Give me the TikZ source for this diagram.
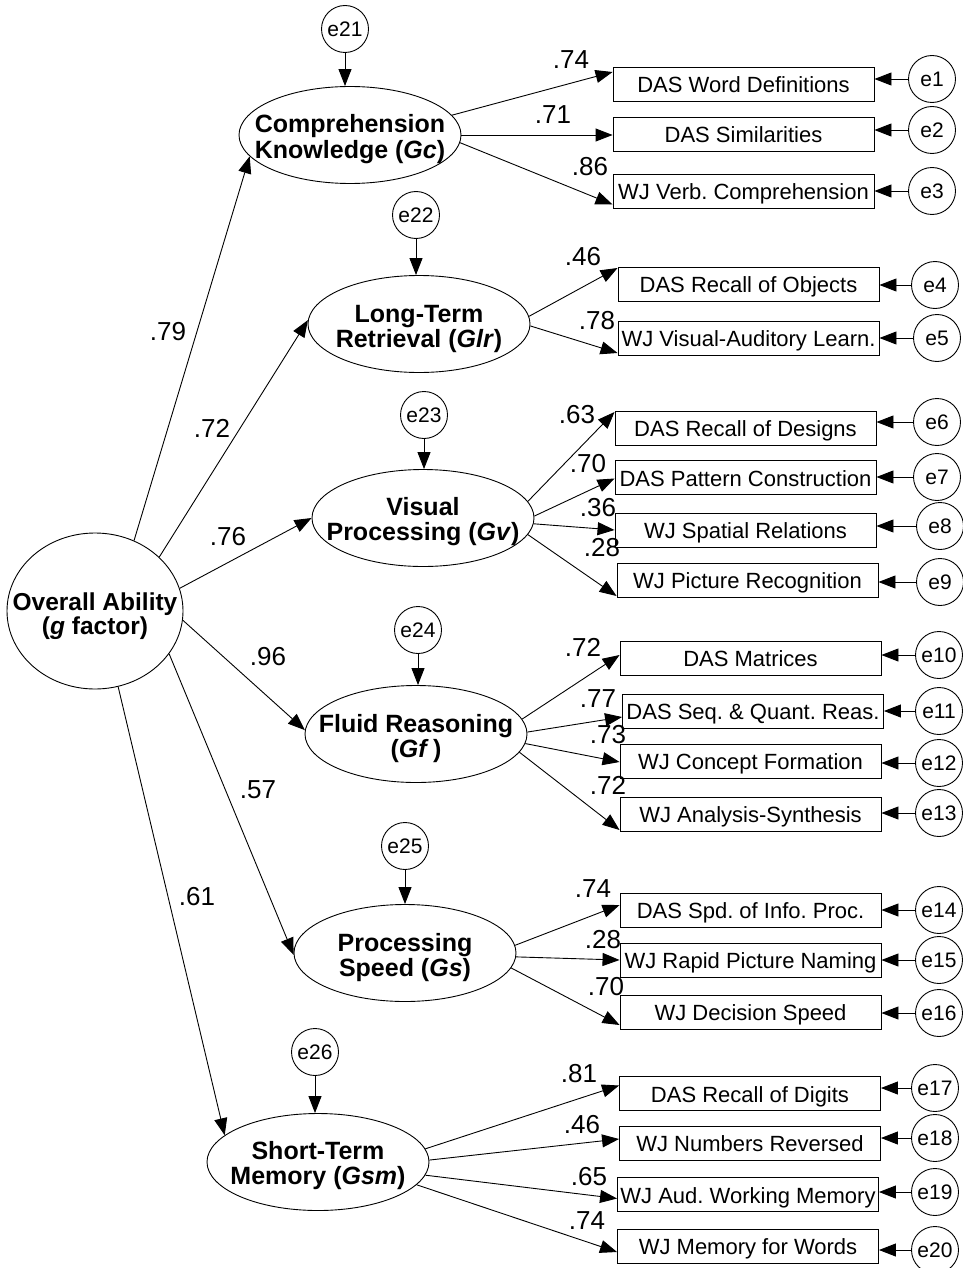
\documentclass[tikz,border=0pt]{standalone}
\usepackage{fontspec}
\setmainfont{Liberation Sans}
\usetikzlibrary{shapes.geometric,arrows.meta}
\frenchspacing
\newcommand{\zw}[2][2pt]{\raisebox{#1}[0pt][0pt]{\makebox[0pt][c]{\begin{tabular}[t]{@{}c@{}}#2\end{tabular}}}}
\begin{document}
\begin{tikzpicture}[x=1pt,y=-1pt,line width=0.9pt,
 arr/.style={-{Triangle[length=17pt,width=13pt]}},
 lat/.style={draw,ellipse,minimum width=222pt,minimum height=97pt,inner sep=0pt,font=\fontsize{25}{25}\selectfont\bfseries},
 obs/.style={draw,rectangle,minimum width=261pt,minimum height=34pt,inner sep=0pt,text height=17pt,text depth=0pt,font=\fontsize{22}{22}\selectfont},
 err/.style={draw,circle,minimum size=47pt,inner sep=0pt,text height=15pt,text depth=0pt,font=\fontsize{21}{21}\selectfont},
 lab/.style={inner sep=0pt,font=\fontsize{26}{26}\selectfont}]
\useasboundingbox (0,0) rectangle (963,1268);

% general factor
\node[draw,ellipse,minimum width=176pt,minimum height=156pt,inner sep=0pt,font=\fontsize{24.5}{24}\selectfont\bfseries] (g) at (95,611) {\zw[1pt]{Overall Ability\\(\textit{g} factor)}};

% broad abilities
\node[lat] (Gc)  at (350,135)  {\zw[2pt]{Comprehension\\Knowledge (\textit{Gc})}};
\node[lat] (Glr) at (419,324)  {\zw[2pt]{Long-Term\\Retrieval (\textit{Glr})}};
\node[lat] (Gv)  at (423,518)  {\zw[3pt]{Visual\\Processing (\textit{Gv})}};
\node[lat] (Gf)  at (416,734)  {\zw[2pt]{Fluid Reasoning\\(\textit{Gf}\,)}};
\node[lat] (Gs)  at (405,953)  {\zw[2pt]{Processing\\Speed (\textit{Gs})}};
\node[lat] (Gsm) at (318,1162) {\zw[3pt]{Short-Term\\Memory (\textit{Gsm})}};

% disturbances
\node[err] (e21) at (345,29)   {e21};
\node[err] (e22) at (416,215)  {e22};
\node[err] (e23) at (424,415)  {e23};
\node[err] (e24) at (418,630)  {e24};
\node[err] (e25) at (405,846)  {e25};
\node[err] (e26) at (315,1052) {e26};

% observed
\node[obs] (b1)  at (743.5,84)    {DAS Word Definitions};
\node[obs] (b2)  at (743.5,134)   {DAS Similarities};
\node[obs] (b3)  at (743.5,191.5) {WJ Verb. Comprehension};
\node[obs] (b4)  at (748.5,284)   {DAS Recall of Objects};
\node[obs] (b5)  at (748.5,338)   {WJ Visual-Auditory Learn.};
\node[obs] (b6)  at (745.5,428)   {DAS Recall of Designs};
\node[obs] (b7)  at (745.5,477.5) {DAS Pattern Construction};
\node[obs] (b8)  at (745.5,530)   {WJ Spatial Relations};
\node[obs] (b9)  at (747.5,580)   {WJ Picture Recognition};
\node[obs] (b10) at (750.5,658)   {DAS Matrices};
\node[obs] (b11) at (753,711)     {DAS Seq. \& Quant. Reas.};
\node[obs] (b12) at (750.5,761)   {WJ Concept Formation};
\node[obs] (b13) at (750.5,814)   {WJ Analysis-Synthesis};
\node[obs] (b14) at (750.5,910)   {DAS Spd. of Info. Proc.};
\node[obs] (b15) at (750.5,960)   {WJ Rapid Picture Naming};
\node[obs] (b16) at (750.5,1012)  {WJ Decision Speed};
\node[obs] (b17) at (750,1093.5)  {DAS Recall of Digits};
\node[obs] (b18) at (750,1143)    {WJ Numbers Reversed};
\node[obs] (b19) at (748,1194.5)  {WJ Aud. Working Memory};
\node[obs] (b20) at (748,1246)    {WJ Memory for Words};

% errors of observed
\node[err] (e1)  at (932,79)   {e1};
\node[err] (e2)  at (932,130)  {e2};
\node[err] (e3)  at (932,191)  {e3};
\node[err] (e4)  at (935,285)  {e4};
\node[err] (e5)  at (937,338)  {e5};
\node[err] (e6)  at (937,422)  {e6};
\node[err] (e7)  at (937,477)  {e7};
\node[err] (e8)  at (940,526)  {e8};
\node[err] (e9)  at (940,582)  {e9};
\node[err] (e10) at (939,655)  {e10};
\node[err] (e11) at (939,711)  {e11};
\node[err] (e12) at (939,763)  {e12};
\node[err] (e13) at (939,813)  {e13};
\node[err] (e14) at (939,910)  {e14};
\node[err] (e15) at (939,960)  {e15};
\node[err] (e16) at (939,1013) {e16};
\node[err] (e17) at (935,1088) {e17};
\node[err] (e18) at (935,1138) {e18};
\node[err] (e19) at (935,1192) {e19};
\node[err] (e20) at (935,1250) {e20};

% g -> broad
\draw[arr] (g.61)  -- (Gc.192);
\draw[arr] (g.40)  -- (Glr.178);
\draw[arr] (g.15)  -- (Gv.180);
\draw[arr] (g.354) -- (Gf.178);
\draw[arr] (g.330) -- (Gs.181);
\draw[arr] (g.287) -- (Gsm.164);

% disturbances -> broad
\draw[arr] (e21) -- (e21 |- Gc.north);
\draw[arr] (e22) -- (e22 |- Glr.north);
\draw[arr] (e23) -- (e23 |- Gv.north);
\draw[arr] (e24) -- (e24 |- Gf.north);
\draw[arr] (e25) -- (e25 |- Gs.north);
\draw[arr] (e26) -- (e26 |- Gsm.north);

% broad -> observed
\draw[arr] (Gc.11)   -- ([yshift=12pt]b1.west);
\draw[arr] (Gc.0)    -- ([yshift=-1pt]b2.west);
\draw[arr] (Gc.356)  -- ([yshift=-13pt]b3.west);
\draw[arr] (Glr.4)   -- ([yshift=16pt]b4.west);
\draw[arr] (Glr.359) -- ([yshift=-15pt]b5.west);
\draw[arr] (Gv.9)    -- ([yshift=16pt]b6.west);
\draw[arr] (Gv.1)    -- ([yshift=-1pt]b7.west);
\draw[arr] (Gv.357)  -- (b8.west);
\draw[arr] (Gv.351)  -- ([yshift=-16pt]b9.west);
\draw[arr] (Gf.8)    -- ([yshift=3pt]b10.west);
\draw[arr] (Gf.1)    -- ([yshift=-6pt]b11.west);
\draw[arr] (Gf.355)  -- ([yshift=-1pt]b12.west);
\draw[arr] (Gf.350)  -- ([yshift=-16pt]b13.west);
\draw[arr] (Gs.4)    -- ([yshift=5pt]b14.west);
\draw[arr] (Gs.358)  -- (b15.west);
\draw[arr] (Gs.352)  -- ([yshift=-13pt]b16.west);
\draw[arr] (Gsm.7)   -- ([yshift=8pt]b17.west);
\draw[arr] (Gsm.1)   -- ([yshift=4pt]b18.west);
\draw[arr] (Gsm.353) -- ([yshift=-4pt]b19.west);
\draw[arr] (Gsm.347) -- ([yshift=-6pt]b20.west);

% errors -> observed
\foreach \i in {1,...,20} {\draw[arr] (e\i) -- (e\i -| b\i.east);}

% loadings
\node[lab] (l79) at (168,332) {.79};
\node[lab] (l72) at (212,428) {.72};
\node[lab] (l76) at (228,537) {.76};
\node[lab] (l96) at (268,657) {.96};
\node[lab] (l57) at (258,790) {.57};
\node[lab] (l61) at (197,897) {.61};

\node[lab] (m1)  at (571,60)   {.74};
\node[lab] (m2)  at (553,115)  {.71};
\node[lab] (m3)  at (590,167)  {.86};
\node[lab] (m4)  at (583,257)  {.46};
\node[lab] (m5)  at (597,321)  {.78};
\node[lab] (m6)  at (577,415)  {.63};
\node[lab] (m7)  at (588,464)  {.70};
\node[lab] (m8)  at (598,508)  {.36};
\node[lab] (m9)  at (602,548)  {.28};
\node[lab] (m10) at (583,647)  {.72};
\node[lab] (m11) at (598,699)  {.77};
\node[lab] (m12) at (608,735)  {.73};
\node[lab] (m13) at (608,785)  {.72};
\node[lab] (m14) at (593,889)  {.74};
\node[lab] (m15) at (603,940)  {.28};
\node[lab] (m16) at (606,987)  {.70};
\node[lab] (m17) at (579,1074) {.81};
\node[lab] (m18) at (582,1125) {.46};
\node[lab] (m19) at (589,1177) {.65};
\node[lab] (m20) at (587,1221) {.74};
\end{tikzpicture}
\end{document}
